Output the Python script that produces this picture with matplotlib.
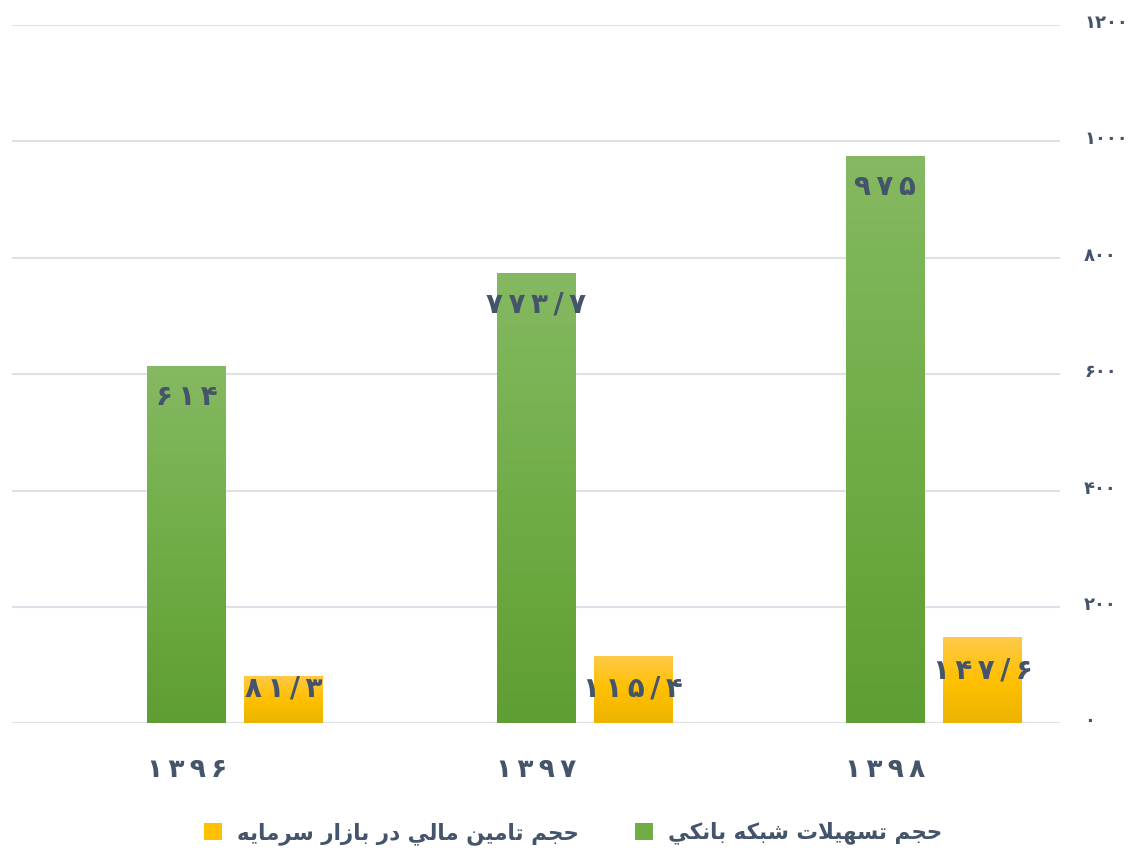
import numpy as np
import matplotlib.pyplot as plt
import matplotlib.transforms as mtransforms
from matplotlib.colors import LinearSegmentedColormap
from matplotlib.patches import Patch

plt.rcParams['font.family'] = ['DejaVu Sans']

# data (billion rials)
years = ['1396', '1397', '1398']
bank_loans = [614, 773.7, 975]
capital_market = [81.3, 115.4, 147.6]
y_ticks = [0, 200, 400, 600, 800, 1000, 1200]
label_bank = 'حجم تسهيلات شبكه بانكي'
label_market = 'حجم تامين مالي در بازار سرمايه'

TEXT_COLOR = '#44546A'
GRID_COLOR = '#DDE2E8'

# presentation forms: isolated, final, initial, medial
FORMS = {
    'ا': ('\uFE8D', '\uFE8E', None, None),
    'ب': ('\uFE8F', '\uFE90', '\uFE91', '\uFE92'),
    'ت': ('\uFE95', '\uFE96', '\uFE97', '\uFE98'),
    'ج': ('\uFE9D', '\uFE9E', '\uFE9F', '\uFEA0'),
    'ح': ('\uFEA1', '\uFEA2', '\uFEA3', '\uFEA4'),
    'د': ('\uFEA9', '\uFEAA', None, None),
    'ر': ('\uFEAD', '\uFEAE', None, None),
    'ز': ('\uFEAF', '\uFEB0', None, None),
    'س': ('\uFEB1', '\uFEB2', '\uFEB3', '\uFEB4'),
    'ش': ('\uFEB5', '\uFEB6', '\uFEB7', '\uFEB8'),
    'ك': ('\uFED9', '\uFEDA', '\uFEDB', '\uFEDC'),
    'ل': ('\uFEDD', '\uFEDE', '\uFEDF', '\uFEE0'),
    'م': ('\uFEE1', '\uFEE2', '\uFEE3', '\uFEE4'),
    'ن': ('\uFEE5', '\uFEE6', '\uFEE7', '\uFEE8'),
    'ه': ('\uFEE9', '\uFEEA', '\uFEEB', '\uFEEC'),
    'ي': ('\uFEF1', '\uFEF2', '\uFEF3', '\uFEF4'),
}
DUAL = {c for c, f in FORMS.items() if f[2] is not None}


def shape(text):
    # join the letters and flip to visual order, matplotlib does no bidi
    out = []
    i = 0
    while i < len(text):
        c = text[i]
        prev = text[i - 1] if i > 0 else ''
        joins_prev = prev in DUAL
        if c == 'ل' and i + 1 < len(text) and text[i + 1] == 'ا':
            out.append('\uFEFC' if joins_prev else '\uFEFB')
            i += 2
            continue
        if c not in FORMS:
            out.append(c)
            i += 1
            continue
        nxt = text[i + 1] if i + 1 < len(text) else ''
        joins_next = c in DUAL and nxt in FORMS
        iso, fin, ini, med = FORMS[c]
        if joins_prev and joins_next:
            out.append(med)
        elif joins_prev:
            out.append(fin)
        elif joins_next:
            out.append(ini)
        else:
            out.append(iso)
        i += 1
    return ''.join(reversed(out))


def fa_num(value, sep='\u2009'):
    s = f'{value:g}'.replace('.', '/')
    s = s.translate(str.maketrans('0123456789', '۰۱۲۳۴۵۶۷۸۹'))
    return sep.join(s)


green = LinearSegmentedColormap.from_list(
    'g', ['#5F9E33', '#70AD47', '#86B962'])
yellow = LinearSegmentedColormap.from_list(
    'y', ['#EBB400', '#FFC000', '#FFC94A'])

fig = plt.figure(figsize=(11.3, 8.51), dpi=100)
ax = fig.add_axes([0.0106, 0.150, 0.9275, 0.8206])

x = np.arange(len(years))
width = 0.226
offset = 0.278

bars_g = ax.bar(x, bank_loans, width, color='none', zorder=2)
bars_y = ax.bar(x + offset, capital_market, width, color='none', zorder=2)

grad = np.linspace(0, 1, 256).reshape(-1, 1)
for bars, cmap in [(bars_g, green), (bars_y, yellow)]:
    for b in bars:
        bx, by = b.get_xy()
        im = ax.imshow(grad, cmap=cmap, origin='lower', aspect='auto',
                       extent=[bx, bx + b.get_width(), by, by + b.get_height()],
                       zorder=2)
        im.set_clip_path(b)

px_per_unit = 698 / 1200
for xi, v in zip(x, bank_loans):
    ax.text(xi, v - 17 / px_per_unit, fa_num(v), ha='center', va='top',
            fontsize=20, fontweight='bold', color=TEXT_COLOR, zorder=3)
for xi, v in zip(x + offset, capital_market):
    ytop = max(v - 19 / px_per_unit, 84)
    ax.text(xi, ytop, fa_num(v), ha='center', va='top',
            fontsize=20, fontweight='bold', color=TEXT_COLOR, zorder=3)

ax.set_xlim(-0.5, 2.5)
ax.set_ylim(0, 1200)

# value axis on the right, drawn as plain text so it can sit a bit high
ax.set_yticks(y_ticks)
ax.tick_params(axis='y', length=0, labelleft=False, labelright=False)
ytrans = mtransforms.blended_transform_factory(ax.transAxes, ax.transData) + \
    mtransforms.ScaledTranslation(24 / 100, 2 / 100, fig.dpi_scale_trans)
for t in y_ticks:
    ax.text(1.0, t, fa_num(t, ''), transform=ytrans, ha='left',
            va='center', fontsize=13, fontweight='bold', color=TEXT_COLOR)

ax.set_xticks(x)
ax.set_xticklabels([fa_num(int(y)) for y in years], fontsize=19,
                   fontweight='bold', color=TEXT_COLOR)
ax.tick_params(axis='x', length=0, pad=24)

ax.grid(axis='y', color=GRID_COLOR, linewidth=1.5, zorder=0)
ax.set_axisbelow(True)
for s in ax.spines.values():
    s.set_visible(False)

handles = [Patch(facecolor='#FFC000', edgecolor='none'),
           Patch(facecolor='#70AD47', edgecolor='none')]
fig.legend(handles, [shape(label_market), shape(label_bank)], ncol=2,
           loc='center', bbox_to_anchor=(0.507, 0.021), frameon=False,
           prop={'size': 15.5, 'weight': 'bold'}, labelcolor=TEXT_COLOR,
           handlelength=0.84, handleheight=0.84, handletextpad=0.7,
           columnspacing=2.6)

fig.savefig('out.png', dpi=100)
